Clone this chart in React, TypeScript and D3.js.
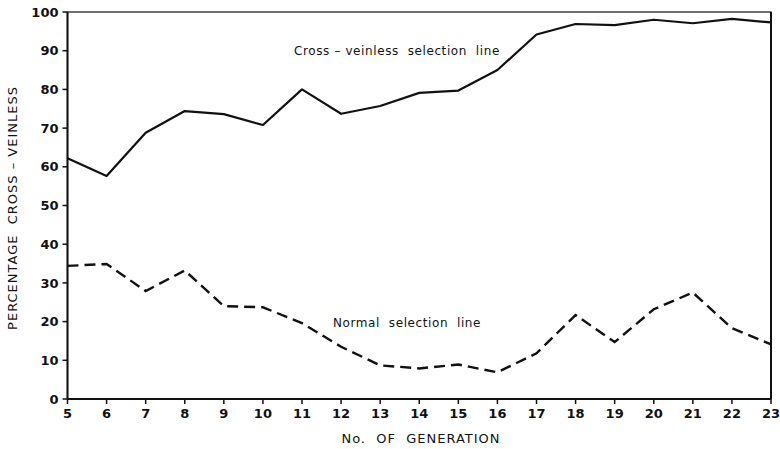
import React from "react";
import * as d3 from "d3";

const generations = [5, 6, 7, 8, 9, 10, 11, 12, 13, 14, 15, 16, 17, 18, 19, 20, 21, 22, 23];
const crossVeinless = [62.2, 57.6, 68.8, 74.4, 73.6, 70.8, 80.0, 73.7, 75.7, 79.1, 79.7, 85.0, 94.2, 96.9, 96.6, 98.0, 97.1, 98.2, 97.3];
const normal = [34.4, 34.9, 27.9, 33.2, 24.0, 23.7, 19.6, 13.5, 8.7, 7.9, 8.9, 6.9, 11.8, 21.7, 14.7, 23.2, 27.5, 18.3, 14.1];
const yTicks = [0, 10, 20, 30, 40, 50, 60, 70, 80, 90, 100];

const W = 780, H = 449;
const left = 67.5, right = 771, top = 12, bottom = 399;

export default function App() {
  const x = d3.scaleLinear().domain([5, 23]).range([left, right]);
  const y = d3.scaleLinear().domain([0, 100]).range([bottom, top]);
  const line = d3.line<number>().x((_, i) => x(generations[i])).y((d) => y(d));
  const font = "'DejaVu Sans', 'Liberation Sans', sans-serif";
  const pre = { whiteSpace: "pre" as const };
  return (
    <svg width={W} height={H} style={{ position: "absolute", left: 0, top: 0, background: "#fff" }} fontFamily={font}>
      <rect x={left} y={top} width={right - left} height={bottom - top} fill="none" stroke="#111" strokeWidth={1.2} />
      <line x1={left} x2={left} y1={top} y2={bottom} stroke="#111" strokeWidth={2} />
      <line x1={left} x2={right} y1={bottom} y2={bottom} stroke="#111" strokeWidth={2} />
      <line x1={right} x2={right} y1={top} y2={bottom} stroke="#111" strokeWidth={2} />
      {yTicks.map((t) => (
        <g key={"y" + t}>
          <line x1={left - 5} x2={left} y1={y(t)} y2={y(t)} stroke="#111" strokeWidth={1.5} />
          <text x={left - 9} y={y(t)} dy="0.36em" textAnchor="end" fontSize={13} fontWeight="bold" fill="#111">{t}</text>
        </g>
      ))}
      {generations.map((g) => (
        <g key={"x" + g}>
          <line x1={x(g)} x2={x(g)} y1={bottom} y2={bottom + 5} stroke="#111" strokeWidth={1.5} />
          <text x={x(g)} y={bottom + 19} textAnchor="middle" fontSize={13} fontWeight="bold" fill="#111">{g}</text>
        </g>
      ))}
      <path d={line(crossVeinless) || ""} fill="none" stroke="#111" strokeWidth={2.2} strokeLinejoin="round" />
      <path d={line(normal) || ""} fill="none" stroke="#111" strokeWidth={2.4} strokeDasharray="11,6" />
      <text x={397} y={55} textAnchor="middle" fontSize={12} fill="#111" letterSpacing={0.6} style={pre}>Cross – veinless  selection  line</text>
      <text x={407} y={327} textAnchor="middle" fontSize={12} fill="#111" letterSpacing={0.6} style={pre}>Normal  selection  line</text>
      <text x={421} y={443} textAnchor="middle" fontSize={13} fill="#111" letterSpacing={1.0} style={pre}>No.  OF  GENERATION</text>
      <text transform={`translate(17,${208}) rotate(-90)`} textAnchor="middle" fontSize={13} fill="#111" letterSpacing={1.0} style={pre}>PERCENTAGE  CROSS – VEINLESS</text>
    </svg>
  );
}
